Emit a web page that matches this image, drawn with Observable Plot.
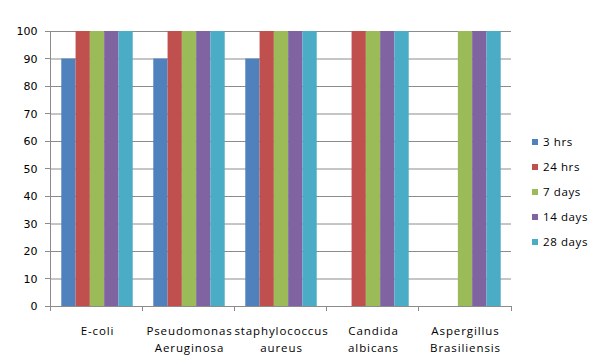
<!DOCTYPE html>
<html>
<head>
<meta charset="utf-8">
<script src="https://cdn.jsdelivr.net/npm/d3@7"></script>
<script src="https://cdn.jsdelivr.net/npm/@observablehq/plot@0.6"></script>
<style>
  html, body { margin: 0; padding: 0; background: #fff; }
  #wrap { position: relative; width: 593px; height: 361px; overflow: hidden; }
  #legend { position: absolute; left: 532px; top: 134px; font-family: "Open Sans", sans-serif; font-size: 11.5px; letter-spacing: 0.6px; color: #000; }
  #legend .item { height: 25px; display: flex; align-items: flex-start; }
  #legend .sw { width: 6px; height: 6px; margin-top: 5px; margin-right: 5px; }
</style>
</head>
<body>
<div id="wrap">
  <div id="chart"></div>
  <div id="legend"></div>
</div>
<script>
const categories = ["E-coli", "Pseudomonas Aeruginosa", "staphylococcus aureus", "Candida albicans", "Aspergillus Brasiliensis"];
const categoryLabels = ["E-coli", "Pseudomonas\nAeruginosa", "staphylococcus\naureus", "Candida\nalbicans", "Aspergillus\nBrasiliensis"];
const series = ["3 hrs", "24 hrs", "7 days", "14 days", "28 days"];
const colors = ["#4F81BD", "#C0504D", "#9BBB59", "#8064A2", "#4BACC6"];
const v3hrs   = [90, 90, 90, 0, 0];
const v24hrs  = [100, 100, 100, 100, 0];
const v7days  = [100, 100, 100, 100, 100];
const v14days = [100, 100, 100, 100, 100];
const v28days = [100, 100, 100, 100, 100];
const yTicks = [0, 10, 20, 30, 40, 50, 60, 70, 80, 90, 100];

const valuesBySeries = [v3hrs, v24hrs, v7days, v14days, v28days];
const data = [];
categories.forEach((c, i) => series.forEach((s, j) => data.push({category: c, series: s, value: valuesBySeries[j][i]})));

const chart = Plot.plot({
  width: 593,
  height: 361,
  marginLeft: 50,
  marginRight: 82,
  marginTop: 31,
  marginBottom: 55,
  style: {fontFamily: "DejaVu Sans, sans-serif", fontSize: "11px", background: "#fff", color: "#000"},
  fx: {domain: categories, padding: 0, label: null, axis: null},
  x: {domain: series, paddingInner: 0, paddingOuter: 0.72, round: false, axis: null},
  y: {domain: [0, 100], label: null, axis: null},
  color: {domain: series, range: colors},
  marks: [
    Plot.gridY(yTicks, {stroke: "#8c8c8c", strokeOpacity: 1}),
    Plot.barY(data, {fx: "category", x: "series", y: "value", fill: "series"}),
    Plot.axisY(yTicks, {anchor: "left", tickSize: 0, tickPadding: 14, fontSize: 11, fontFamily: "DejaVu Sans, sans-serif", facetAnchor: "left"}),
    Plot.axisFx({anchor: "bottom", tickSize: 0, tickPadding: 17, fontSize: 11.5, fontFamily: "Open Sans, sans-serif", lineHeight: 1.45, tickFormat: d => categoryLabels[categories.indexOf(d)]})
  ]
});

document.getElementById("chart").appendChild(chart);
d3.select(chart).selectAll("g[aria-label='fx-axis tick label'] text").style("letter-spacing", "0.9px");

// axis lines and boundary tick marks from the library's scales
const fx = chart.scale("fx");
const y = chart.scale("y");
const svg = d3.select(chart);
const x0 = fx.range[0], x1 = fx.range[1];
const step = (x1 - x0) / fx.domain.length;
const yScale = d3.scaleLinear(y.domain, y.range);
const g = svg.append("g").attr("stroke", "#8c8c8c").attr("stroke-width", 1).attr("shape-rendering", "crispEdges");
g.append("line").attr("x1", x0).attr("x2", x0).attr("y1", yScale(0)).attr("y2", yScale(100));
yTicks.forEach(t => g.append("line").attr("x1", x0 - 5).attr("x2", x0).attr("y1", yScale(t)).attr("y2", yScale(t)));
for (let i = 0; i <= fx.domain.length; i++) {
  const xx = x0 + i * step;
  g.append("line").attr("x1", xx).attr("x2", xx).attr("y1", yScale(0)).attr("y2", yScale(0) + 5);
}

const legend = document.getElementById("legend");
series.forEach((s, i) => {
  const it = document.createElement("div");
  it.className = "item";
  it.innerHTML = `<span class="sw" style="background:${colors[i]}"></span><span>${s}</span>`;
  legend.appendChild(it);
});
</script>
</body>
</html>
